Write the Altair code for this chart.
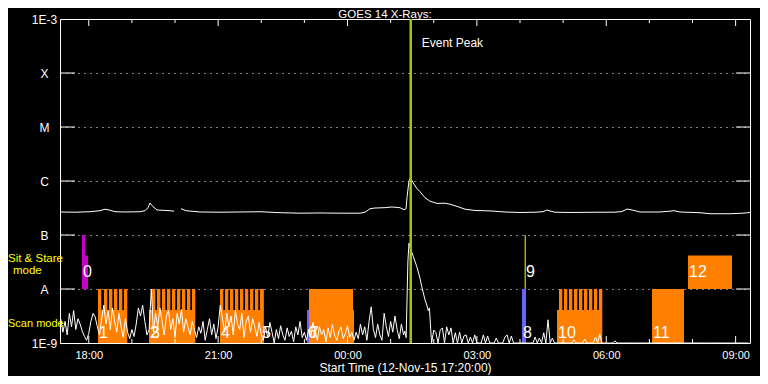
import altair as alt
import pandas as pd

# ---------------- axes / levels (time in hours since 12-Nov-15 00:00) ----------------
T_START = 17 + 20 / 60
T_END = 33 + 20 / 60
MAJOR_HOURS = [18, 21, 24, 27, 30, 33]
MINOR_HOURS = [19, 20, 22, 23, 25, 26, 28, 29, 31, 32]
LEVELS = [1e-9, 1e-8, 1e-7, 1e-6, 1e-5, 1e-4, 1e-3]
LEVEL_NAMES = ["1E-9", "A", "B", "C", "M", "X", "1E-3"]
INNER_LEVELS = [1e-8, 1e-7, 1e-6, 1e-5, 1e-4]
EVENT_PEAK_HOUR = 25.466

# ---------------- GOES long channel (log10 flux) ----------------
LONG_HOUR = [17.333, 17.681, 18.029, 18.261, 18.377, 18.493, 18.609, 18.841, 19.188, 19.304,
             19.374, 19.420, 19.490, 19.583, 19.884, 19.977,
             20.139, 20.255, 20.580, 21.043, 21.507, 21.971, 22.435, 22.899, 23.362, 23.826,
             24.290, 24.406, 24.522, 24.638, 24.870, 25.032, 25.217, 25.310, 25.357, 25.380,
             25.426, 25.461, 25.496, 25.542, 25.612, 25.681, 25.797, 25.913, 26.075, 26.261,
             26.377, 26.562, 26.725, 26.957, 27.304, 27.652, 28.000, 28.348, 28.533, 28.626,
             28.696, 28.812, 29.159, 29.507, 29.855, 30.203, 30.365, 30.481, 30.620, 30.783,
             31.246, 31.478, 31.571, 31.710, 32.174, 32.406, 32.870, 33.171, 33.333]
LONG_LOG = [-6.574, -6.578, -6.569, -6.550, -6.522, -6.541, -6.569, -6.574, -6.569, -6.550,
            -6.494, -6.407, -6.476, -6.537, -6.550, -6.559,
            -6.513, -6.550, -6.574, -6.578, -6.574, -6.569, -6.587, -6.596, -6.592, -6.596,
            -6.596, -6.578, -6.513, -6.500, -6.494, -6.481, -6.494, -6.531, -6.513, -6.309,
            -5.994, -5.939, -5.994, -6.059, -6.143, -6.198, -6.309, -6.374, -6.415, -6.411,
            -6.430, -6.476, -6.522, -6.546, -6.554, -6.574, -6.583, -6.578, -6.569, -6.537,
            -6.555, -6.578, -6.583, -6.580, -6.578, -6.578, -6.565, -6.519, -6.541, -6.574,
            -6.574, -6.559, -6.550, -6.574, -6.587, -6.606, -6.606, -6.596, -6.583]
LONG_PART = [0] * 16 + [1] * 59

# ---------------- GOES short channel (log10 flux, 3-minute cadence) ----------------
SHORT_A_START = 17.35
SHORT_STEP = 0.05
SHORT_A_LOG = [
    -8.55, -8.80, -8.60, -8.85, -8.45, -8.70, -8.40, -8.75, -8.55, -8.65, -8.78, -8.88, -8.95, -8.82, -8.60, -8.45, -8.52, -8.70,
    -8.85, -8.55, -8.30, -8.65, -8.40, -8.75, -8.35, -8.60, -8.80, -8.45, -8.70, -8.90, -8.55,
    -8.80, -8.92, -8.75, -8.88, -8.65, -8.35, -8.50, -8.30, -8.60, -8.85, -8.75,
    -8.00, -8.80, -8.45, -8.70, -8.35, -8.60, -8.85, -8.50, -8.40, -8.75, -8.55, -8.90, -8.45, -8.65, -8.38, -8.80, -8.55, -8.70, -8.85, -8.60, -8.75,
    -8.90, -8.70, -8.82, -8.60, -8.95, -8.75, -8.55, -8.85, -8.65, -8.92, -8.70,
    -8.30, -8.55, -8.80, -8.45, -8.70, -8.50, -8.85, -8.40, -8.65, -8.75, -8.45, -8.90, -8.60, -8.50, -8.80, -8.55, -8.70, -8.88, -8.62,
    -8.85, -8.95, -8.70, -8.90, -8.62, -8.80, -9.00, -8.75, -8.92, -8.68, -8.85, -8.95, -8.72, -8.88, -8.78, -8.98, -8.70, -8.85, -8.60, -8.90, -8.80, -8.95, -8.75,
    -8.88, -8.62, -8.80, -8.95, -8.70, -8.85, -8.75, -8.98, -8.72, -8.90, -8.66, -8.85, -8.95, -8.78, -8.70, -8.92, -8.82, -8.68, -8.90, -8.80, -8.95,
    -8.80, -8.92, -8.65, -8.85, -8.70, -8.95, -8.60, -8.33, -8.75, -8.90, -8.65, -8.85, -8.95, -8.45, -8.70, -8.88, -8.60, -8.80, -8.50, -8.75, -8.92, -8.65, -8.85,
]
PEAK_HOUR = [25.33, 25.36, 25.40, 25.425, 25.449, 25.526, 25.605, 25.681, 25.720, 25.797, 25.84, 25.873, 25.90, 25.93]
PEAK_LOG = [-8.78, -8.90, -7.50, -7.15, -7.22, -7.40, -7.58, -7.80, -7.95, -8.20, -8.30, -8.40, -8.35, -8.75]
SHORT_B_START = 25.95
SHORT_B_LOG = [
    -9, -8.76, -8.81, -9, -8.76, -8.72, -9, -8.70, -8.85, -8.72,
    -9, -8.81, -9, -8.80, -9, -8.87, -8.85, -9, -8.89, -9,
    -8.85, -9, -9, -9, -8.85, -9, -8.87, -9, -9, -9,
    -8.91, -9, -9, -9, -8.89, -8.85, -9, -8.87, -9, -9,
    -9, -9, -9, -9, -9, -9, -9, -9, -8.89, -9,
    -8.91, -9, -8.81, -9, -8.57, -9, -8.91, -9, -9, -9,
    -9, -9, -9, -9, -9, -9, -8.94, -9, -9, -9,
    -9, -8.93, -9, -9, -9, -9, -8.89, -9, -8.83, -9,
    -9, -9, -9, -9, -9, -8.96, -9, -9, -9, -9,
    -9, -9, -9, -9, -9, -9, -9, -9, -9, -9,
    -9, -9, -9, -9, -9, -9, -9, -9, -9, -9,
    -9, -9, -9, -9, -9, -9, -9, -9, -9, -9,
    -9, -9, -9, -9, -9, -9, -9, -9, -9, -9,
    -9, -9, -9, -9, -9, -9, -9, -9, -9, -9,
    -9, -9, -9, -9, -9, -9, -9, -9,
]

# ---------------- observation blocks (hours, log10 flux extent) ----------------
BLOCK_START = [17.843, 17.913, 18.214, 19.397, 21.043, 23.107, 28.858, 23.107, 31.061, 31.896, 21.994, 23.061, 28.046]
BLOCK_END = [17.913, 17.983, 18.887, 20.464, 21.994, 24.151, 29.901, 24.128, 31.803, 32.916, 22.064, 23.107, 28.139]
BLOCK_LOW = [-8, -8, -9, -9, -9, -9, -9, -9, -9, -8, -9, -9, -9]
BLOCK_HIGH = [-7, -7.38, -8.39, -8.39, -8.39, -8.39, -8.39, -8, -8, -7.38, -8, -8.39, -8]
BLOCK_KIND = ["purple", "purple", "orange", "orange", "orange", "orange", "orange", "orange", "orange", "orange", "blue", "blue", "blue"]
KIND_NAMES = ["orange", "purple", "blue"]
KIND_COLORS = ["#ff8000", "#c800c8", "#6666ff"]

STRIPE_START = [18.214, 18.354, 18.470, 18.586, 18.701, 18.817,
                19.467, 19.583, 19.699, 19.815, 19.930, 20.046, 20.162, 20.278, 20.394,
                21.043, 21.159, 21.275, 21.391, 21.507, 21.623, 21.739, 21.855, 21.971,
                28.904, 29.020, 29.136, 29.252, 29.368, 29.484, 29.600, 29.715, 29.831]
STRIPE_LEN = 0.077
STRIPE_LOW, STRIPE_HIGH = -9, -8

SNS_LINE_HOUR = 28.12
SNS_LINE_LOW, SNS_LINE_HIGH = -8, -7

OBS_LABEL = ["0", "1", "2", "3", "4", "5", "6", "7", "8", "9", "10", "11", "12"]
OBS_LABEL_HOUR = [17.843, 18.214, 19.397, 19.42, 21.043, 21.994, 23.061, 23.107, 28.046, 28.116, 28.858, 31.061, 31.896]
OBS_LABEL_LOG = [-7.68, -8.815, -8.815, -8.815, -8.815, -8.815, -8.815, -8.815, -8.815, -7.68, -8.815, -8.815, -7.68]

# ---------------- build tables ----------------
long_df = pd.DataFrame({"t": LONG_HOUR, "f": [10 ** v for v in LONG_LOG], "part": LONG_PART})
short_t = [SHORT_A_START + SHORT_STEP * i for i in range(len(SHORT_A_LOG))] + PEAK_HOUR + \
          [SHORT_B_START + SHORT_STEP * i for i in range(len(SHORT_B_LOG))]
short_v = SHORT_A_LOG + PEAK_LOG + SHORT_B_LOG
short_df = pd.DataFrame({"t": short_t, "f": [10 ** v for v in short_v]})
block_df = pd.DataFrame({"t0": BLOCK_START, "t1": BLOCK_END,
                         "lo": [10 ** v for v in BLOCK_LOW], "hi": [10 ** v for v in BLOCK_HIGH],
                         "kind": BLOCK_KIND})
stripe_df = pd.DataFrame({"t0": STRIPE_START, "t1": [s + STRIPE_LEN for s in STRIPE_START],
                          "lo": 10.0 ** STRIPE_LOW, "hi": 10.0 ** STRIPE_HIGH})
sns_df = pd.DataFrame({"t": [SNS_LINE_HOUR], "lo": [10.0 ** SNS_LINE_LOW], "hi": [10.0 ** SNS_LINE_HIGH]})
label_df = pd.DataFrame({"t": OBS_LABEL_HOUR, "f": [10 ** v for v in OBS_LABEL_LOG], "txt": OBS_LABEL})
lvl_df = pd.DataFrame({"v": INNER_LEVELS})
major_df = pd.DataFrame({"t": MAJOR_HOURS})
minor_df = pd.DataFrame({"t": MINOR_HOURS})
event_df = pd.DataFrame({"t": [EVENT_PEAK_HOUR]})
one = alt.Data(values=[{"a": 1}])

FONT = "Liberation Sans"
W, H = 690, 324
xs = alt.Scale(domain=[T_START, T_END], nice=False, zero=False)
ys = alt.Scale(type="log", domain=[LEVELS[0], LEVELS[-1]], nice=False)

y_expr = ""
for lv, name in zip(LEVELS[:-1], LEVEL_NAMES[:-1]):
    y_expr += f"datum.value < {lv * 3:g} ? '{name}' : "
y_expr += f"'{LEVEL_NAMES[-1]}'"
x_expr = "(datum.value % 24 < 10 ? '0' : '') + (datum.value % 24) + ':00'"

x_axis = alt.Axis(values=MAJOR_HOURS, labelExpr=x_expr, ticks=False, domain=False, grid=False,
                  labelColor="white", labelFont=FONT, labelFontSize=11, labelPadding=6,
                  labelFlush=False, labelOverlap=False,
                  title="Start Time (12-Nov-15 17:20:00)", titleColor="white", titleFont=FONT,
                  titleFontSize=12, titleFontWeight="normal", titlePadding=2)
y_axis = alt.Axis(values=LEVELS, labelExpr=y_expr, ticks=False, domain=False, grid=True,
                  gridColor="white", gridDash=[1, 5], gridWidth=1, gridOpacity=1,
                  labelColor="white", labelFont=FONT, labelFontSize=12, labelAlign="center",
                  labelBaseline="middle", labelPadding=16, labelFlush=False, labelOverlap=False,
                  title="")

X = lambda f: alt.X(f, scale=xs)
Y = lambda f: alt.Y(f, scale=ys)

blocks = alt.Chart(block_df).mark_rect().encode(
    x=alt.X("t0:Q", scale=xs, axis=x_axis), x2="t1:Q",
    y=alt.Y("lo:Q", scale=ys, axis=y_axis), y2="hi:Q",
    color=alt.Color("kind:N", scale=alt.Scale(domain=KIND_NAMES, range=KIND_COLORS), legend=None),
)
stripes = alt.Chart(stripe_df).mark_rect(color="#ff8000").encode(
    x=X("t0:Q"), x2="t1:Q", y=Y("lo:Q"), y2="hi:Q")
sns_line = alt.Chart(sns_df).mark_rule(color="#ffff00", strokeWidth=1).encode(
    x=X("t:Q"), y=Y("lo:Q"), y2="hi:Q")
long_line = alt.Chart(long_df).mark_line(color="white", strokeWidth=1).encode(
    x=X("t:Q"), y=Y("f:Q"), detail="part:N")
short_line = alt.Chart(short_df).mark_line(color="white", strokeWidth=1).encode(
    x=X("t:Q"), y=Y("f:Q"))
left_ticks = alt.Chart(lvl_df).mark_rule(color="white").encode(
    y=Y("v:Q"), x=alt.value(0), x2=alt.value(15))
right_ticks = alt.Chart(lvl_df).mark_rule(color="white").encode(
    y=Y("v:Q"), x=alt.value(W - 14), x2=alt.value(W))
top_major = alt.Chart(major_df).mark_rule(color="white").encode(
    x=X("t:Q"), y=alt.value(0), y2=alt.value(7))
top_minor = alt.Chart(minor_df).mark_rule(color="white").encode(
    x=X("t:Q"), y=alt.value(0), y2=alt.value(4))
bot_major = alt.Chart(major_df).mark_rule(color="white").encode(
    x=X("t:Q"), y=alt.value(H - 7), y2=alt.value(H))
bot_minor = alt.Chart(minor_df).mark_rule(color="white").encode(
    x=X("t:Q"), y=alt.value(H - 4), y2=alt.value(H))
labels = alt.Chart(label_df).mark_text(color="white", font=FONT, fontSize=16, align="left",
                                       baseline="middle", dx=1).encode(
    x=X("t:Q"), y=Y("f:Q"), text="txt:N")
event_line = alt.Chart(event_df).mark_rule(color="#a0cc00", strokeWidth=2.5).encode(
    x=X("t:Q"), y=alt.value(0), y2=alt.value(H))
event_text = alt.Chart(event_df).mark_text(text="Event Peak", color="white", font=FONT, fontSize=12,
                                           align="left", baseline="middle", dx=11).encode(
    x=X("t:Q"), y=alt.value(24))
title_text = alt.Chart(one).mark_text(text="GOES 14 X-Rays:", color="white", font=FONT, fontSize=11.5,
                                      align="center", baseline="alphabetic").encode(
    x=alt.value(325), y=alt.value(-1.5))
sns_text1 = alt.Chart(one).mark_text(text="Sit & Stare", color="#ffff00", font=FONT, fontSize=11.5,
                                     align="left", baseline="middle").encode(
    x=alt.value(-52), y=alt.value(240))
sns_text2 = alt.Chart(one).mark_text(text="mode", color="#ffff00", font=FONT, fontSize=11.5,
                                     align="left", baseline="middle").encode(
    x=alt.value(-47), y=alt.value(252))
scan_text = alt.Chart(one).mark_text(text="Scan mode", color="#ffff00", font=FONT, fontSize=11,
                                     align="left", baseline="middle").encode(
    x=alt.value(-52), y=alt.value(305))

chart = alt.layer(
    blocks, stripes, sns_line, long_line, short_line,
    left_ticks, right_ticks, top_major, top_minor, bot_major, bot_minor,
    labels, event_line, event_text, title_text, sns_text1, sns_text2, scan_text,
).properties(
    width=W, height=H,
    padding={"left": 52, "top": 11, "right": 10, "bottom": 33},
    autosize=alt.AutoSizeParams(type="none"),
).configure(background="black").configure_view(stroke="white", strokeWidth=1)

chart.save("out.html", embed_options={"renderer": "svg", "actions": False})
